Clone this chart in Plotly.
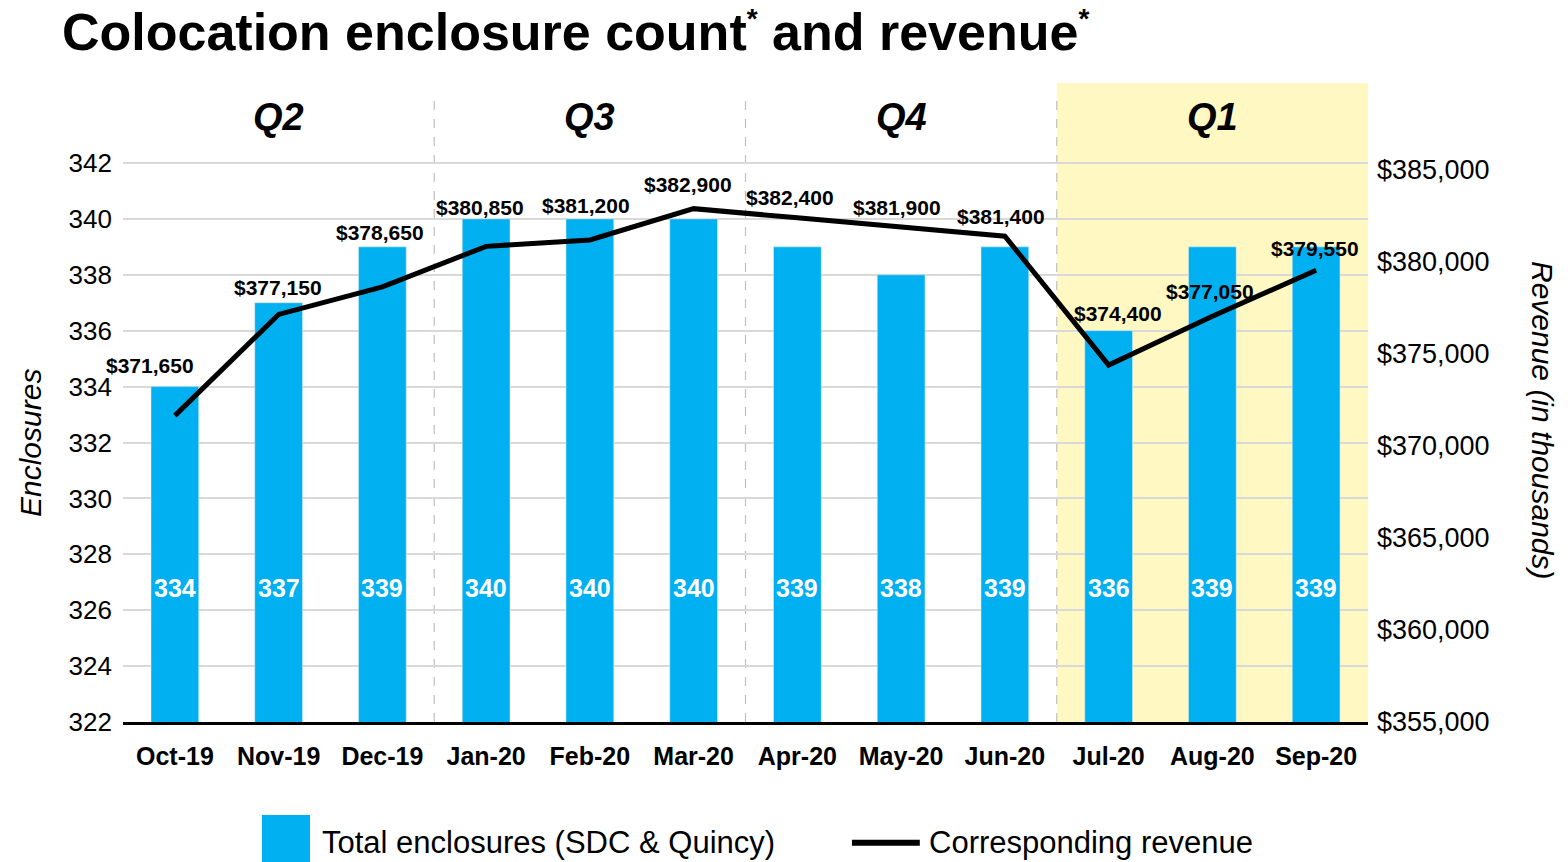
import plotly.graph_objects as go

months = ["Oct-19", "Nov-19", "Dec-19", "Jan-20", "Feb-20", "Mar-20",
          "Apr-20", "May-20", "Jun-20", "Jul-20", "Aug-20", "Sep-20"]
enclosures = [334, 337, 339, 340, 340, 340, 339, 338, 339, 336, 339, 339]
revenue = [371650, 377150, 378650, 380850, 381200, 382900,
           382400, 381900, 381400, 374400, 377050, 379550]
quarters = ["Q2", "Q3", "Q4", "Q1"]
quarter_centers = ["Nov-19", "Feb-20", "May-20", "Aug-20"]
left_ticks = list(range(322, 343, 2))
right_ticks = list(range(355000, 385001, 5000))

BLUE = "#00B0F0"
ARIAL = "Liberation Sans, Arial, sans-serif"

# label offsets (style only): (xshift, yshift) in px for revenue labels
label_shift = [(-25, 50), (-1, 27), (-2, 54), (-6, 39), (-4, 34), (-6, 24),
               (-7, 20), (-4, 20), (-4, 20), (9, 52), (-2, 25), (-1, 22)]

fig = go.Figure()
fig.add_trace(go.Bar(x=months, y=enclosures, marker_color=BLUE, width=0.46,
                     yaxis="y", showlegend=False, hoverinfo="skip"))
fig.add_trace(go.Scatter(x=months, y=revenue, yaxis="y2", mode="lines",
                         line=dict(color="black", width=5),
                         showlegend=False, hoverinfo="skip"))

shapes = []
shapes.append(dict(type="rect", xref="x", yref="paper", x0=8.5, x1=11.5, y0=0, y1=1,
                   fillcolor="#FFF8C2", line_width=0, layer="below"))
for xs in (2.5, 5.5, 8.5):
    shapes.append(dict(type="line", xref="x", yref="paper", x0=xs, x1=xs, y0=0, y1=0.985,
                       line=dict(color="#BFBFBF", width=1.2, dash="dash"), layer="below"))
# custom legend
shapes.append(dict(type="rect", xref="paper", yref="paper", x0=0.1116, x1=0.1502,
                   y0=-0.24, y1=-0.1455, fillcolor=BLUE, line_width=0))
shapes.append(dict(type="line", xref="paper", yref="paper", x0=0.5855, x1=0.640,
                   y0=-0.189, y1=-0.189, line=dict(color="black", width=6)))

annotations = []
for q, c in zip(quarters, quarter_centers):
    annotations.append(dict(x=c, y=0.947, xref="x", yref="paper", yanchor="middle",
                            text=f"<b><i>{q}</i></b>", showarrow=False,
                            font=dict(family=ARIAL, size=38, color="black")))
for m, e in zip(months, enclosures):
    annotations.append(dict(x=m, y=326.8, xref="x", yref="y", yanchor="middle",
                            text=f"<b>{e}</b>", showarrow=False,
                            font=dict(family=ARIAL, size=25, color="white")))
for m, r, (dx, dy) in zip(months, revenue, label_shift):
    annotations.append(dict(x=m, y=r, xref="x", yref="y2", yanchor="middle",
                            xshift=dx, yshift=dy, text=f"<b>${r:,}</b>", showarrow=False,
                            font=dict(family=ARIAL, size=21, color="black")))
annotations.append(dict(x=-0.0747, y=0.4366, xref="paper", yref="paper", xanchor="center",
                        yanchor="middle", text="<i>Enclosures</i>",
                        textangle=-90, showarrow=False, font=dict(family=ARIAL, size=30, color="black")))
annotations.append(dict(x=1.1406, y=0.4726, xref="paper", yref="paper", xanchor="center",
                        yanchor="middle", text="<i>Revenue (in thousands)</i>", textangle=90,
                        showarrow=False, font=dict(family=ARIAL, size=30, color="black")))
annotations.append(dict(x=0.1582, y=-0.189, xref="paper", yref="paper", xanchor="left",
                        yanchor="middle", text="Total enclosures (SDC &amp; Quincy)", showarrow=False,
                        font=dict(family=ARIAL, size=31, color="black")))
annotations.append(dict(x=0.6458, y=-0.189, xref="paper", yref="paper", xanchor="left",
                        yanchor="middle", text="Corresponding revenue", showarrow=False,
                        font=dict(family=ARIAL, size=31, color="black")))

fig.update_layout(
    width=1560, height=854,
    margin=dict(l=115, r=200, t=75, b=140),
    paper_bgcolor="white", plot_bgcolor="white",
    title=dict(text="<b>Colocation enclosure count<sup><span style='font-size:28px'>*</span></sup>"
                    " and revenue<sup><span style='font-size:28px'>*</span></sup></b>",
               xref="container", yref="container", x=0.0346, y=1 - 24 / 854,
               xanchor="left", yanchor="middle",
               font=dict(family=ARIAL, size=52, color="black")),
    xaxis=dict(type="category", categoryorder="array", categoryarray=months,
               range=[-0.5, 11.5], showgrid=False, showline=True, linecolor="black",
               linewidth=2.5, ticks="", ticklabelstandoff=10,
               tickfont=dict(family=ARIAL, size=25, color="black", weight="bold")),
    yaxis=dict(range=[322, 322 + 639 / 27.95], tickvals=left_ticks, showgrid=True,
               gridcolor="#D9D9D9", gridwidth=1.5, zeroline=False, showline=False,
               ticks="", ticklabelstandoff=10,
               tickfont=dict(family=ARIAL, size=26, color="black")),
    yaxis2=dict(range=[355000, 355000 + 639 / 18.4 * 1000], tickvals=right_ticks,
                ticktext=[f"${v:,}" for v in right_ticks], overlaying="y", side="right",
                showgrid=False, zeroline=False, showline=False, ticks="", ticklabelstandoff=8,
                tickfont=dict(family=ARIAL, size=27, color="black")),
    shapes=shapes, annotations=annotations,
    showlegend=False,
)

fig.write_html("out.html")
